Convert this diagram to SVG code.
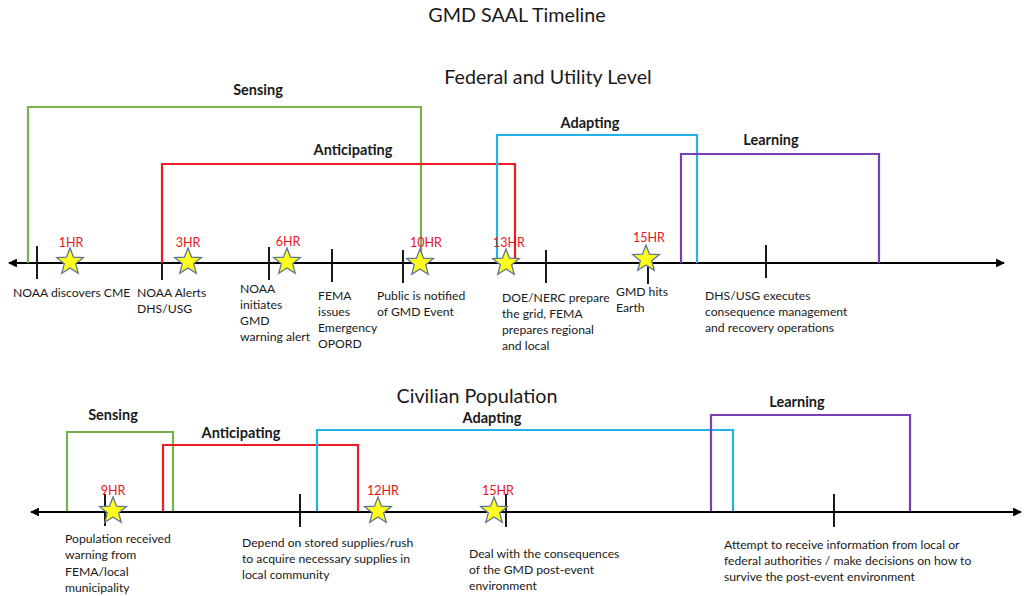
<svg xmlns="http://www.w3.org/2000/svg" xmlns:xlink="http://www.w3.org/1999/xlink" width="1026" height="596" viewBox="0 0 1026 596">
  <style>
    text { font-family: Lato, "Open Sans", "Liberation Sans", sans-serif; fill: #1a1a1a; }
    .title { font-size: 19.7px; text-anchor: middle; }
    .phase { font-size: 14.5px; font-weight: bold; text-anchor: middle; }
    .hr { font-size: 12.5px; fill: #e8141b; text-anchor: middle; }
    .lbl { font-size: 12.2px; }
    .axis { stroke: #000; stroke-width: 2.2; fill: none; }
    .tick { stroke: #000; stroke-width: 1.8; fill: none; }
    .br { fill: none; stroke-width: 2.2; }
    .sense { stroke: #77b04f; }
    .antic { stroke: #ee1c24; }
    .adapt { stroke: #22b2ea; }
    .learn { stroke: #7a3fb0; }
    .star { fill: #ffff1a; stroke: #5a7399; stroke-width: 1.3; }
  </style>
  <defs>
    <marker id="arr" viewBox="0 0 10 10" refX="9" refY="5" markerWidth="4" markerHeight="4" orient="auto-start-reverse">
      <path d="M0,0 L10,5 L0,10 Z" fill="#000"/>
    </marker>
    <polygon id="star" class="star" points="0,-14 3.53,-4.85 13.31,-4.33 5.71,1.85 8.23,11.33 0,6 -8.23,11.33 -5.71,1.85 -13.31,-4.33 -3.53,-4.85"/>
  </defs>

  <rect width="1026" height="596" fill="#fff"/>

  <text class="title" x="517" y="22">GMD SAAL Timeline</text>
  <text class="title" x="548" y="84">Federal and Utility Level</text>
  <text class="title" x="477" y="403">Civilian Population</text>

  <!-- Federal and utility timeline -->
  <g id="federal-axis">
    <line class="axis" x1="9" y1="263" x2="1004" y2="263" marker-start="url(#arr)" marker-end="url(#arr)"/>
    <line class="tick" x1="37" y1="246" x2="37" y2="279"/>
    <line class="tick" x1="162" y1="263" x2="162" y2="280"/>
    <line class="tick" x1="269" y1="247" x2="269" y2="280"/>
    <line class="tick" x1="332" y1="249" x2="332" y2="282"/>
    <line class="tick" x1="403" y1="250" x2="403" y2="283"/>
    <line class="tick" x1="546" y1="250" x2="546" y2="283"/>
    <line class="tick" x1="648" y1="262" x2="648" y2="284"/>
    <line class="tick" x1="766" y1="245" x2="766" y2="278"/>
  </g>

  <g id="connectors">
    <path class="br sense" d="M28,263 V107 H421 V263"/>
    <path class="br antic" d="M162,263 V164 H515 V263"/>
    <path class="br adapt" d="M497,263 V135 H697 V263"/>
    <path class="br learn" d="M681,263 V154 H879 V263"/>

    <path class="br sense" d="M67,512 V432 H173 V512"/>
    <path class="br antic" d="M163,512 V445 H358 V512"/>
    <path class="br adapt" d="M317,512 V430 H733 V512"/>
    <path class="br learn" d="M711,512 V415 H910 V512"/>
  </g>

  <g id="federal-phases">
    <text class="phase" x="258" y="95">Sensing</text>
    <text class="phase" x="353" y="155">Anticipating</text>
    <text class="phase" x="590" y="128">Adapting</text>
    <text class="phase" x="771" y="145">Learning</text>
  </g>

  <g id="ev-1hr">
    <use href="#star" x="70" y="262"/>
    <text class="hr" x="71" y="247">1HR</text>
    <text class="lbl" x="13" y="297">NOAA discovers CME</text>
  </g>
  <g id="ev-3hr">
    <use href="#star" x="188" y="262"/>
    <text class="hr" x="188" y="247">3HR</text>
    <text class="lbl" x="137" y="297">NOAA Alerts</text>
    <text class="lbl" x="137" y="313">DHS/USG</text>
  </g>
  <g id="ev-6hr">
    <use href="#star" x="287" y="262"/>
    <text class="hr" x="288" y="246">6HR</text>
    <text class="lbl" x="240" y="293">NOAA</text>
    <text class="lbl" x="240" y="309">initiates</text>
    <text class="lbl" x="240" y="325">GMD</text>
    <text class="lbl" x="240" y="341">warning alert</text>
  </g>
  <g id="ev-fema">
    <text class="lbl" x="318" y="300">FEMA</text>
    <text class="lbl" x="318" y="316">issues</text>
    <text class="lbl" x="318" y="332">Emergency</text>
    <text class="lbl" x="318" y="348">OPORD</text>
  </g>
  <g id="ev-10hr">
    <use href="#star" x="420" y="263"/>
    <text class="hr" x="426" y="247">10HR</text>
    <text class="lbl" x="377" y="300">Public is notified</text>
    <text class="lbl" x="377" y="316">of GMD Event</text>
  </g>
  <g id="ev-13hr">
    <use href="#star" x="506" y="263"/>
    <text class="hr" x="509" y="247">13HR</text>
    <text class="lbl" x="502" y="302">DOE/NERC prepare</text>
    <text class="lbl" x="502" y="318">the grid, FEMA</text>
    <text class="lbl" x="502" y="334">prepares regional</text>
    <text class="lbl" x="502" y="350">and local</text>
  </g>
  <g id="ev-15hr">
    <use href="#star" x="646" y="259"/>
    <text class="hr" x="649" y="242">15HR</text>
    <text class="lbl" x="616" y="296">GMD hits</text>
    <text class="lbl" x="616" y="312">Earth</text>
  </g>
  <g id="ev-recovery">
    <text class="lbl" x="705" y="300">DHS/USG executes</text>
    <text class="lbl" x="705" y="316">consequence management</text>
    <text class="lbl" x="705" y="332">and recovery operations</text>
  </g>

  <!-- Civilian population timeline -->
  <g id="civilian-axis">
    <line class="axis" x1="31" y1="512" x2="1021" y2="512" marker-start="url(#arr)" marker-end="url(#arr)"/>
    <line class="tick" x1="105" y1="494" x2="105" y2="526"/>
    <line class="tick" x1="300" y1="494" x2="300" y2="527"/>
    <line class="tick" x1="506" y1="494" x2="506" y2="527"/>
    <line class="tick" x1="834" y1="494" x2="834" y2="527"/>
  </g>

  <g id="civilian-phases">
    <text class="phase" x="113" y="420">Sensing</text>
    <text class="phase" x="241" y="438">Anticipating</text>
    <text class="phase" x="492" y="423">Adapting</text>
    <text class="phase" x="797" y="407">Learning</text>
  </g>

  <g id="civ-9hr">
    <use href="#star" x="113" y="511"/>
    <text class="hr" x="113" y="495">9HR</text>
    <text class="lbl" x="65" y="543">Population received</text>
    <text class="lbl" x="65" y="559">warning from</text>
    <text class="lbl" x="65" y="576">FEMA/local</text>
    <text class="lbl" x="65" y="592">municipality</text>
  </g>
  <g id="civ-supplies">
    <text class="lbl" x="242" y="547">Depend on stored supplies/rush</text>
    <text class="lbl" x="242" y="563">to acquire necessary supplies in</text>
    <text class="lbl" x="242" y="579">local community</text>
  </g>
  <g id="civ-12hr">
    <use href="#star" x="378" y="511"/>
    <text class="hr" x="383" y="495">12HR</text>
  </g>
  <g id="civ-15hr">
    <use href="#star" x="494" y="511"/>
    <text class="hr" x="498" y="495">15HR</text>
    <text class="lbl" x="469" y="558">Deal with the consequences</text>
    <text class="lbl" x="469" y="574">of the GMD post-event</text>
    <text class="lbl" x="469" y="590">environment</text>
  </g>
  <g id="civ-learning">
    <text class="lbl" x="724" y="549">Attempt to receive information from local or</text>
    <text class="lbl" x="724" y="565">federal authorities / make decisions on how to</text>
    <text class="lbl" x="724" y="581">survive the post-event environment</text>
  </g>
</svg>
